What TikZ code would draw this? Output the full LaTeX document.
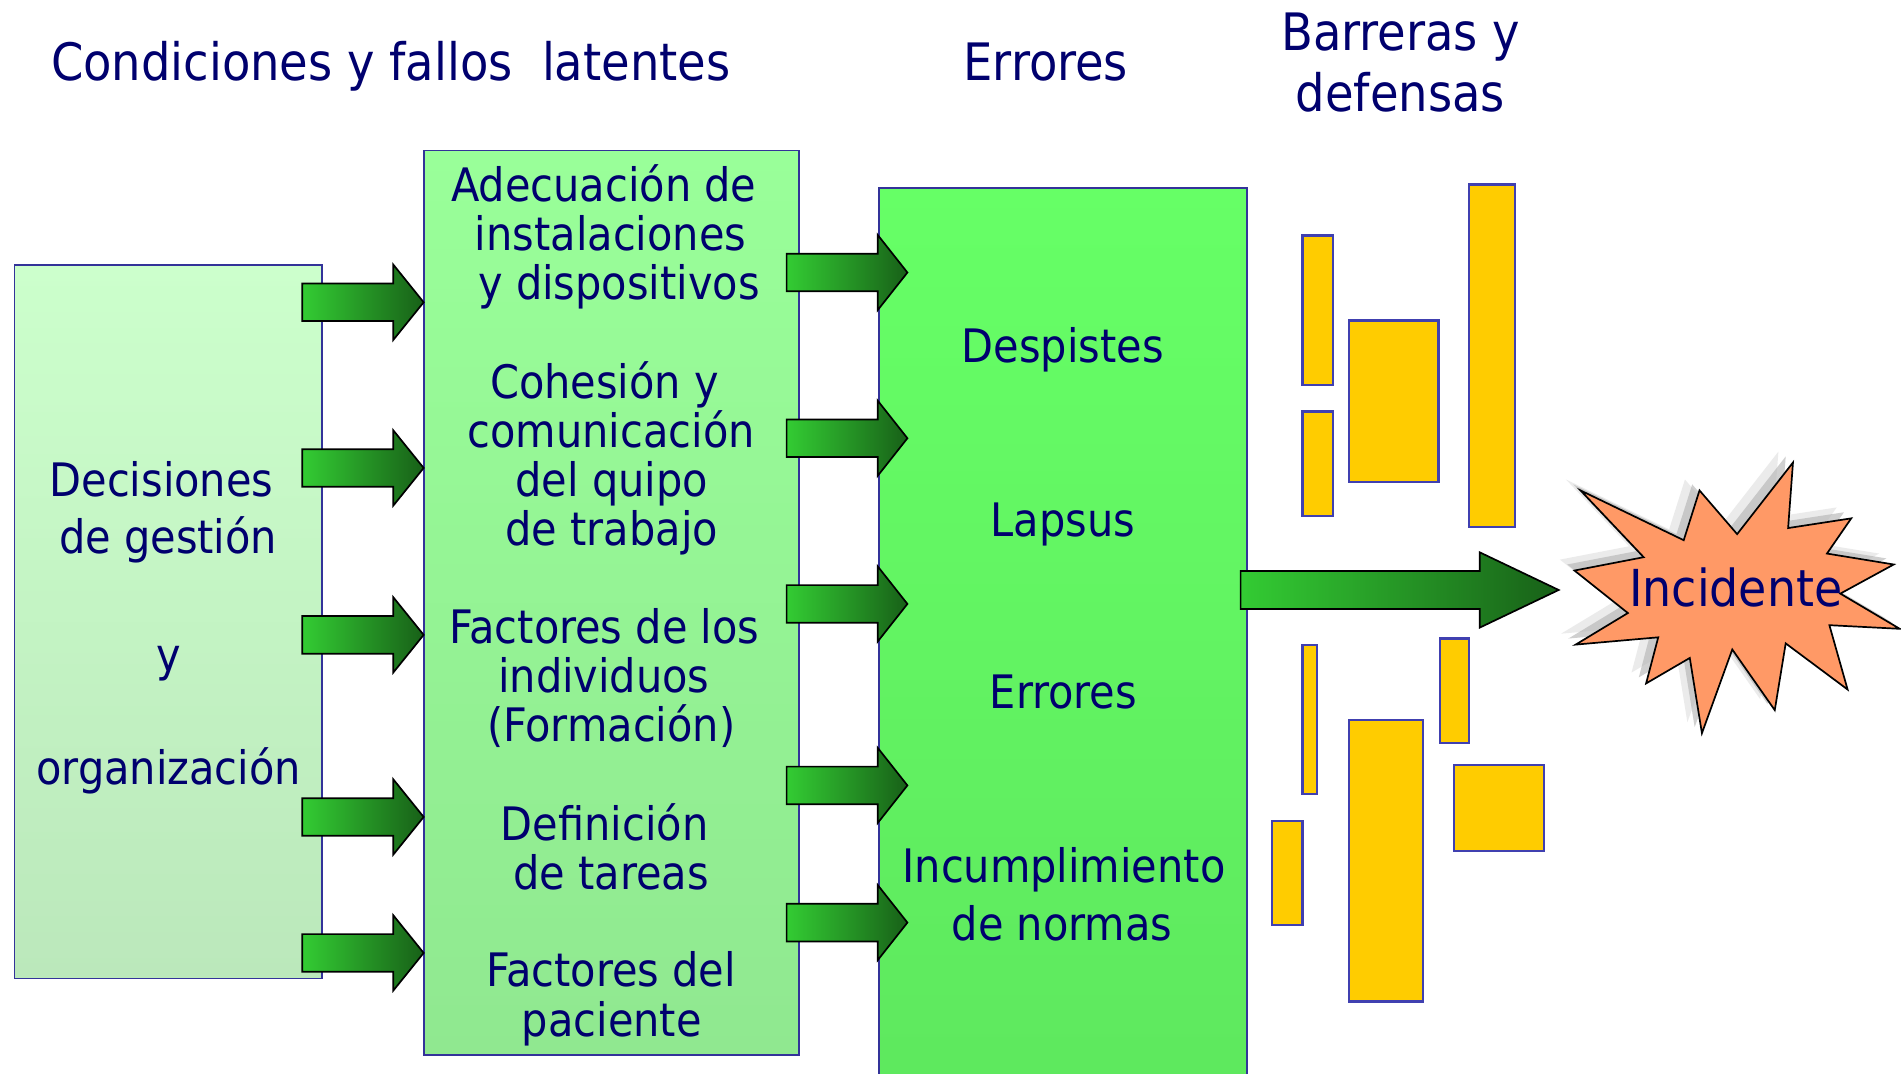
\documentclass[tikz,border=0pt]{standalone}
\usepackage{fontspec}
\setmainfont{DejaVu Sans Condensed}
\usetikzlibrary{calc}
\definecolor{navy}{RGB}{0,0,110}
\definecolor{bord}{RGB}{51,51,153}
\definecolor{ybord}{RGB}{64,64,176}
\definecolor{yel}{RGB}{255,204,0}
\definecolor{lTop}{RGB}{204,255,204}
\definecolor{lBot}{RGB}{187,232,187}
\definecolor{mTop}{RGB}{153,255,153}
\definecolor{mBot}{RGB}{144,232,144}
\definecolor{rTop}{RGB}{102,255,102}
\definecolor{rBot}{RGB}{94,232,94}
\definecolor{arL}{RGB}{51,204,51}
\definecolor{arM}{RGB}{44,176,44}
\definecolor{arR}{RGB}{24,96,24}
\definecolor{starfill}{RGB}{255,153,102}
\newcommand\blockarrow[5]{% xstart, y, headbase, tip, shaft half
  \draw[blockar] (#1,#2-#5) -- (#3,#2-#5) -- (#3,#2-31) -- (#4,#2) -- (#3,#2+31) -- (#3,#2+#5) -- (#1,#2+#5) -- cycle;}
\begin{document}
\begin{tikzpicture}[x=1pt,y=-1pt,
  box/.style={draw=bord, line width=1.5pt, inner sep=0, outer sep=0},
  blockar/.style={draw=black, line width=1.4pt, line join=miter, left color=arL, middle color=arM, right color=arR},
  barrier/.style={draw=ybord, fill=yel, line width=1.8pt},
  txt/.style={font=\fontsize{38}{41}\selectfont, text=navy, inner sep=0, anchor=base},
  ttl/.style={font=\fontsize{42.5}{50}\selectfont, text=navy, inner sep=0, anchor=base}]
\useasboundingbox (0,0) rectangle (1566,884);
\fill[white] (0,0) rectangle (1566,884);

% titles
\node[ttl] (t1) at (322,66) {Condiciones y fallos\ \ latentes};
\node[ttl] (t2) at (861.5,66) {Errores};
\node[ttl] (t3a) at (1154,42) {Barreras y};
\node[ttl] (t3b) at (1153.5,92) {defensas};

% boxes
\node[box, top color=lTop, bottom color=lBot, minimum width=253pt, minimum height=588pt] (left) at (138.5,512) {};
\node[box, top color=mTop, bottom color=mBot, minimum width=309pt, minimum height=745pt] (mid) at (503.5,496.5) {};
\node[box, top color=rTop, bottom color=rBot, minimum width=303pt, minimum height=745pt] (err) at (875.5,527.5) {};

% left text
\node[txt] (l1) at (133,409) {Decisiones};
\node[txt] (l2) at (138.5,456) {de gestión};
\node[txt] (l3) at (139,553) {y};
\node[txt] (l4) at (139,646) {organización};

% middle text
\node[txt] (m1a) at (497.5,166) {Adecuación de};
\node[txt] (m1b) at (503,206.5) {instalaciones};
\node[txt] (m1c) at (510,247) {y dispositivos};
\node[txt] (m2a) at (498,328) {Cohesión y};
\node[txt] (m2b) at (503.5,368.5) {comunicación};
\node[txt] (m2c) at (504,409) {del quipo};
\node[txt] (m2d) at (504,449.5) {de trabajo};
\node[txt] (m3a) at (498,530) {Factores de los};
\node[txt] (m3b) at (497.5,570.5) {individuos};
\node[txt] (m3c) at (503.5,611) {(Formación)};
\node[txt] (m4a) at (498,692) {Definición};
\node[txt] (m4b) at (503.5,732.5) {de tareas};
\node[txt] (m5a) at (503.5,813) {Factores del};
\node[txt] (m5b) at (504,853.5) {paciente};

% right text
\node[txt] (r1) at (875.5,299) {Despistes};
\node[txt] (r2) at (875.5,442) {Lapsus};
\node[txt] (r3) at (876,584) {Errores};
\node[txt] (r4a) at (876.5,727) {Incumplimiento};
\node[txt] (r4b) at (875,775) {de normas};

% arrows left -> middle
\foreach \yy in {249,385.5,523,673,785}{\blockarrow{249}{\yy}{324}{349}{15.5}}
% arrows middle -> right
\foreach \yy in {224.5,361,497.5,647,760}{\blockarrow{648}{\yy}{723}{747.5}{15.5}}
% big arrow
\blockarrow{1022}{486}{1219}{1284}{15.6}

% barriers
\draw[barrier] (1073,194) rectangle (1098,317);
\draw[barrier] (1073,339) rectangle (1098,425);
\draw[barrier] (1111,264) rectangle (1185,397);
\draw[barrier] (1210,152) rectangle (1248,434);
\draw[barrier] (1073,531) rectangle (1085,654);
\draw[barrier] (1186,526) rectangle (1210,612);
\draw[barrier] (1111,593) rectangle (1172,825);
\draw[barrier] (1198,630) rectangle (1272,701);
\draw[barrier] (1048,676) rectangle (1073,762);

% star with shadow
\def\starpath{(1302,404) -- (1387,445) -- (1400,404) -- (1431,440) -- (1477,381) -- (1473,435) -- (1525,427) -- (1505,456) -- (1560,465) -- (1516,489) -- (1565,518) -- (1507,515) -- (1522,568) -- (1471,530) -- (1462,585) -- (1427,535) -- (1402,604) -- (1392,542) -- (1356,563) -- (1366,525) -- (1298,531) -- (1341,505) -- (1297,470) -- (1354,459) -- cycle}
\fill[gray!30, opacity=0.5, shift={(-12,-9)}] \starpath;
\fill[gray!60, opacity=0.6, shift={(-6,-5)}] \starpath;
\draw[fill=starfill, draw=black, line width=1.4pt, line join=miter] \starpath;
\node[txt, font=\fontsize{42}{50}\selectfont] (inc) at (1430,500) {Incidente};
\end{tikzpicture}
\end{document}
